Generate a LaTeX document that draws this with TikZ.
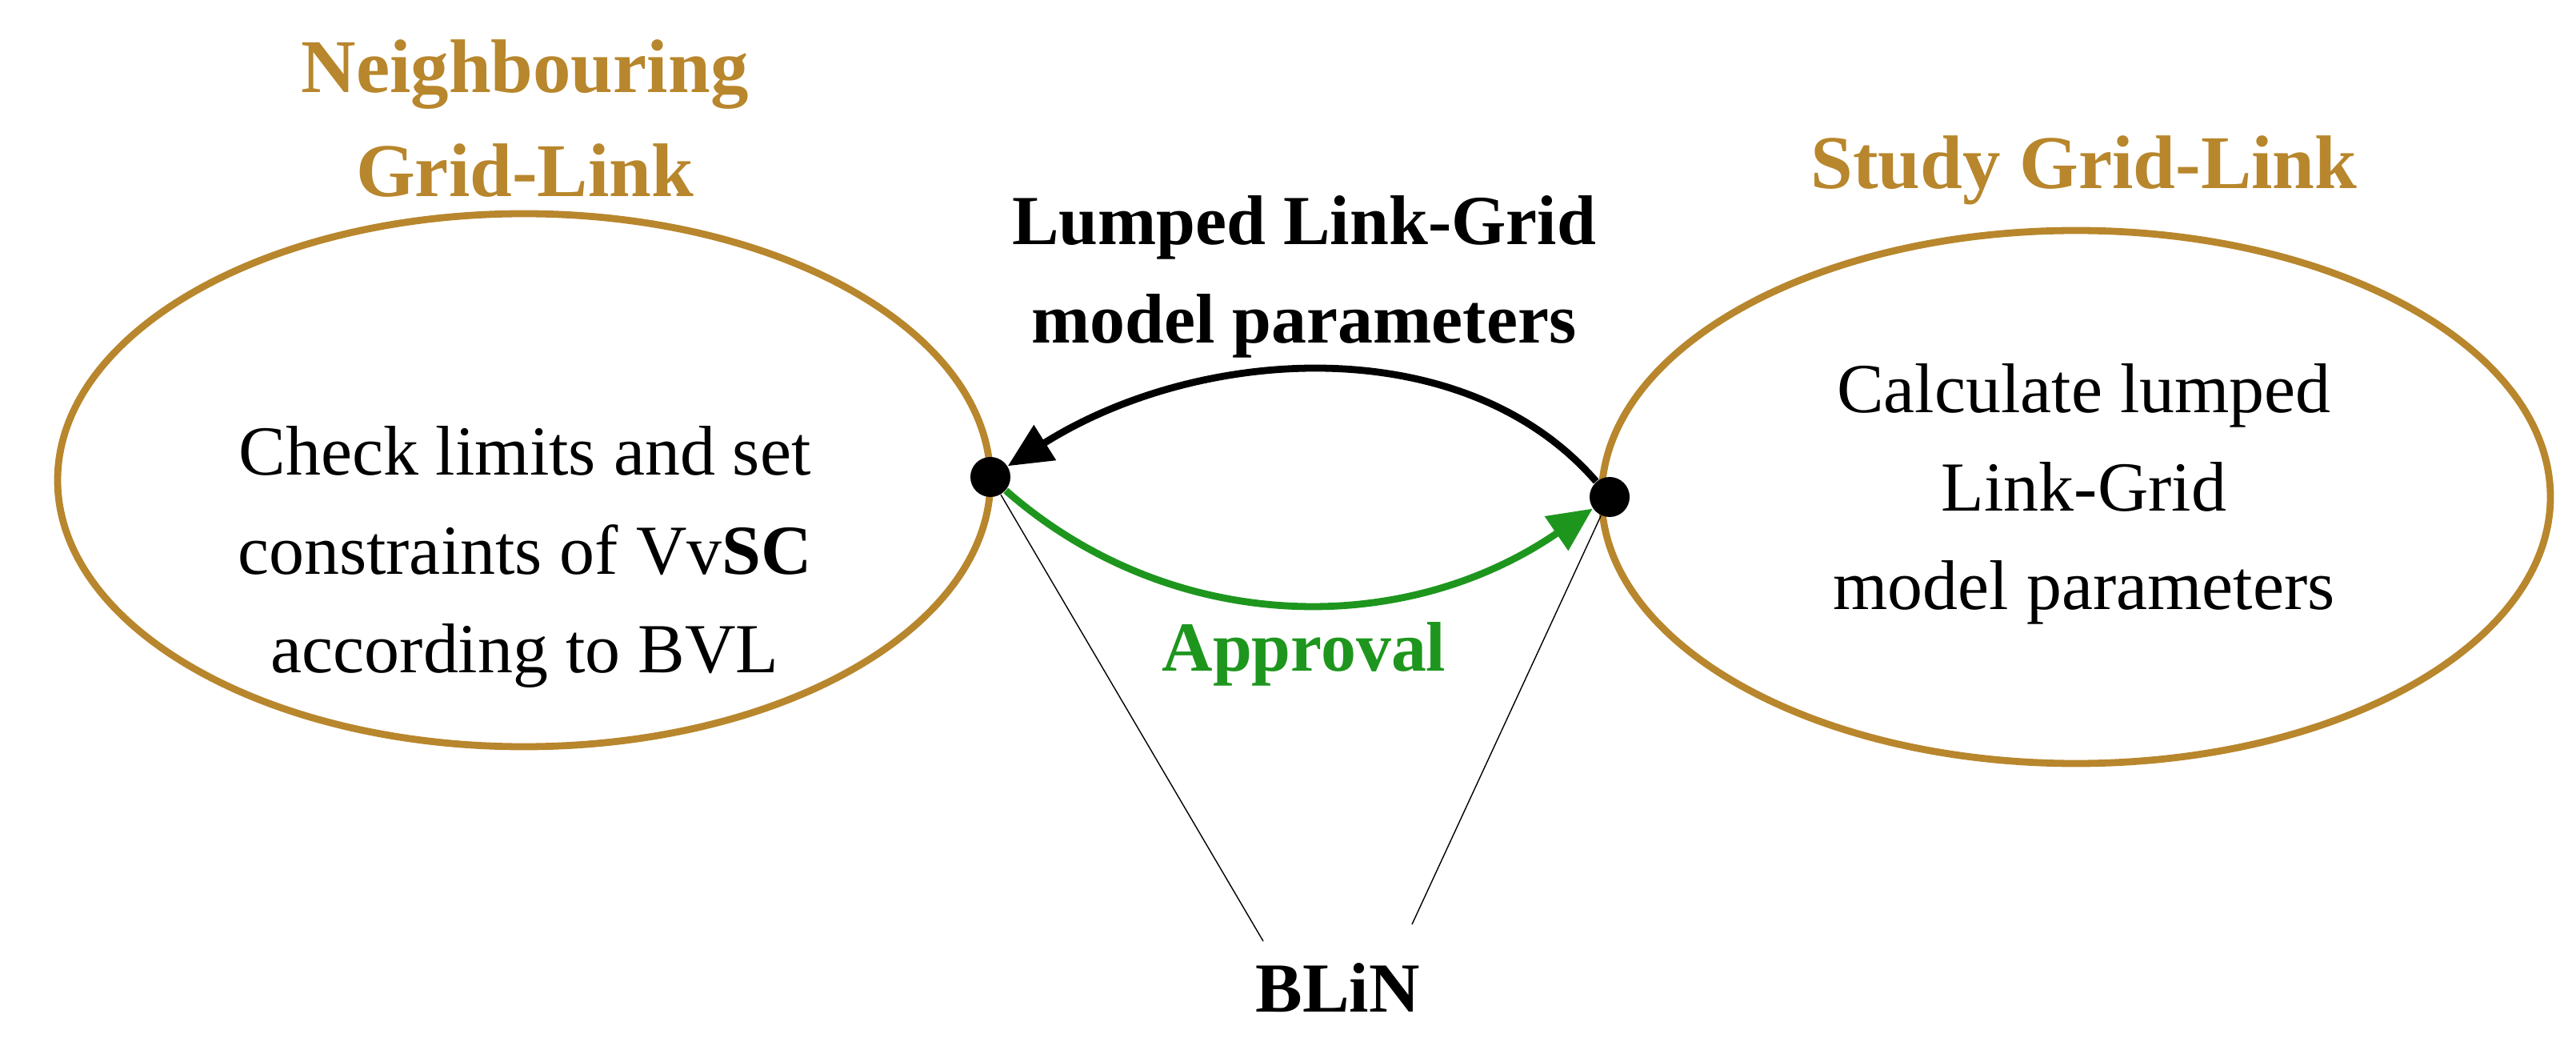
\documentclass[tikz,border=0pt]{standalone}
\usepackage{fontspec}
\setmainfont{Liberation Serif}
\usetikzlibrary{arrows.meta}
\definecolor{gold}{RGB}{184,134,44}
\definecolor{appgreen}{RGB}{30,150,30}
\begin{document}
\begin{tikzpicture}[
    body/.style={align=center, font=\fontsize{25}{35}\selectfont},
    title/.style={align=center, text=gold, font=\fontsize{27}{37}\selectfont\bfseries},
    dot/.style={circle, fill=black, inner sep=0pt, minimum size=0.5cm}]
        \useasboundingbox (0,0) rectangle (32.2,13.01);

        % Draw the two grid-link ellipses
        \draw[gold, line width=2.5pt] (6.55,7.01) ellipse (5.83 and 3.33);
        \draw[gold, line width=2.5pt] (25.95,6.80) ellipse (5.93 and 3.33);

        % Titles and texts
        \node[title] (neigh) at (6.56,11.53) {Neighbouring\\Grid-Link};
        \node[title] (study) at (26.05,10.88) {Study Grid-Link};
        \node[body] (check) at (6.56,6.05) {Check limits and set\\constraints of Vv\textbf{SC}\\according to BVL};
        \node[body] (calc) at (26.05,6.84) {Calculate lumped\\Link-Grid\\model parameters};

        % Contact points
        \node[dot] (pl) at (12.38,7.05) {};
        \node[dot] (pr) at (20.12,6.80) {};

        % Exchanged messages
        \draw[-{Triangle[length=0.55cm,width=0.5cm]}, line width=2.5pt] (pr) .. controls (18.3,8.9) and (15.0,8.7) .. (pl);
        \draw[-{Triangle[length=0.55cm,width=0.5cm]}, appgreen, line width=2.5pt] (pl) .. controls (14.6,5.1) and (17.5,5.0) .. (pr);
        \node[body, font=\fontsize{25}{35}\selectfont\bfseries] (lump) at (16.30,9.55) {Lumped Link-Grid\\model parameters};
        \node[body, text=appgreen, font=\fontsize{25}{35}\selectfont\bfseries] (appr) at (16.30,4.84) {Approval};

        % BLiN label
        \node[body, font=\fontsize{25}{35}\selectfont\bfseries] (blin) at (16.72,0.67) {BLiN};
        \coordinate (bl) at (15.79,1.25);
        \coordinate (br) at (17.65,1.46);
        \draw[thin] (pl) -- (bl);
        \draw[thin] (pr) -- (br);
\end{tikzpicture}
\end{document}
